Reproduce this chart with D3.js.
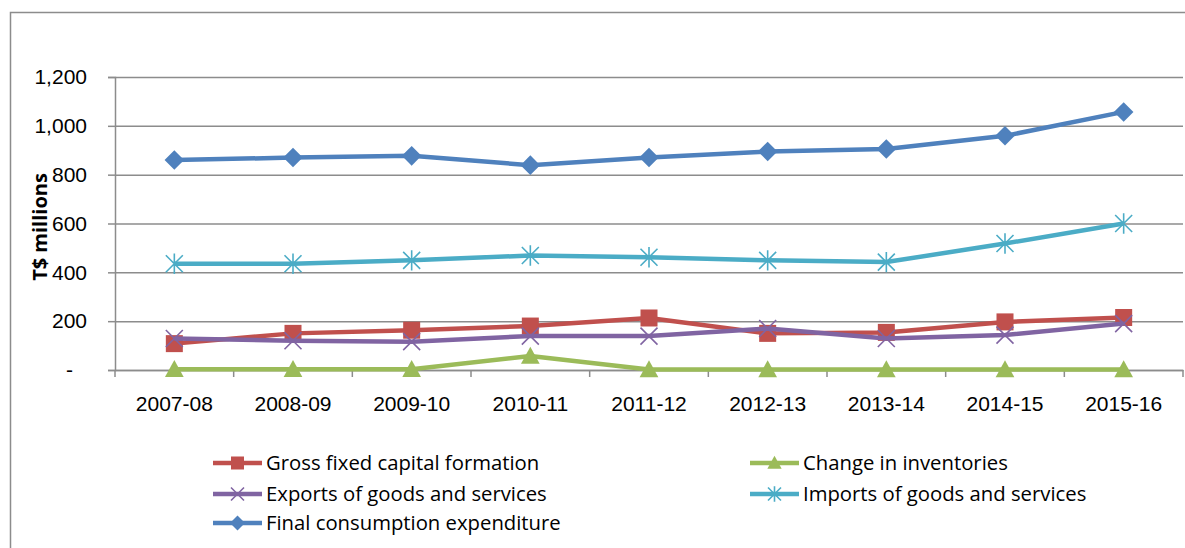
<!DOCTYPE html>
<html>
<head>
<meta charset="utf-8">
<script src="https://cdn.jsdelivr.net/npm/d3@7"></script>
<style>
  body { margin: 0; background: #fff; }
  svg { display: block; font-family: "Open Sans", sans-serif; }
</style>
</head>
<body>
<div id="chart"></div>
<script>
// data
const years = ["2007-08", "2008-09", "2009-10", "2010-11", "2011-12", "2012-13", "2013-14", "2014-15", "2015-16"];
const grossFixed = [108, 150, 163, 180, 213, 150, 154, 197, 215];
const inventories = [3, 3, 3, 57, 2, 2, 2, 2, 2];
const exportsGS = [129, 120, 116, 139, 139, 170, 129, 143, 190];
const importsGS = [435, 435, 449, 469, 462, 449, 442, 518, 600];
const finalCons = [860, 870, 877, 839, 870, 895, 905, 959, 1057];
const yTicks = [0, 200, 400, 600, 800, 1000, 1200];

const series = [
    { name: "Gross fixed capital formation", values: grossFixed, color: "#C0504D", marker: "square" },
    { name: "Change in inventories", values: inventories, color: "#9BBB59", marker: "triangle" },
    { name: "Exports of goods and services", values: exportsGS, color: "#8064A2", marker: "x" },
    { name: "Imports of goods and services", values: importsGS, color: "#4BACC6", marker: "star" },
    { name: "Final consumption expenditure", values: finalCons, color: "#4F81BD", marker: "diamond" }
];

const W = 1185, H = 548;
const plot = { left: 115, right: 1183, top: 77, bottom: 370 };

const svg = d3.select("#chart").append("svg")
    .attr("width", W)
    .attr("height", H);

// outer frame (cropped at the right and bottom)
svg.append("rect")
    .attr("x", 10.5).attr("y", 12.5)
    .attr("width", W + 20).attr("height", H + 20)
    .attr("fill", "none")
    .attr("stroke", "#8c8c8c")
    .attr("stroke-width", 1.5);

const x = d3.scaleBand()
    .domain(years)
    .range([plot.left, plot.right]);

const y = d3.scaleLinear()
    .domain([0, 1200])
    .range([plot.bottom, plot.top]);

const cx = d => x(d) + x.bandwidth() / 2;

// gridlines
svg.append("g")
    .attr("transform", `translate(${plot.left},0)`)
    .call(d3.axisLeft(y).tickValues(yTicks).tickSize(-(plot.right - plot.left)).tickFormat(""))
    .call(g => g.select(".domain").remove())
    .selectAll("line")
    .attr("stroke", "#8c8c8c")
    .attr("stroke-width", 1.5);

// y axis
const yAxis = svg.append("g")
    .attr("transform", `translate(${plot.left},0)`)
    .call(d3.axisLeft(y).tickValues(yTicks).tickSize(7).tickPadding(21)
        .tickFormat(d => d === 0 ? "-" : d3.format(",")(d)));
yAxis.select(".domain").attr("stroke", "#8c8c8c").attr("stroke-width", 1.5);
yAxis.selectAll(".tick line").attr("stroke", "#8c8c8c").attr("stroke-width", 1.5);
yAxis.selectAll(".tick text")
    .style("font-size", "21px")
    .attr("fill", "#000")
    .attr("dx", d => d === 0 ? -14 : 0);

// x axis
const xAxis = svg.append("g")
    .attr("transform", `translate(0,${plot.bottom})`)
    .call(d3.axisBottom(x).tickSize(0).tickPadding(26));
xAxis.select(".domain").attr("stroke", "#8c8c8c").attr("stroke-width", 1.5);
xAxis.selectAll(".tick text")
    .style("font-size", "21px")
    .attr("fill", "#000");

// category tick marks between bands
svg.append("g")
    .selectAll("line")
    .data(years.concat(["end"]))
    .enter().append("line")
    .attr("x1", (d, i) => i < years.length ? x(d) : plot.right)
    .attr("x2", (d, i) => i < years.length ? x(d) : plot.right)
    .attr("y1", plot.bottom)
    .attr("y2", plot.bottom + 7)
    .attr("stroke", "#8c8c8c")
    .attr("stroke-width", 1.5);

// y axis title
svg.append("text")
    .attr("transform", "translate(47,227) rotate(-90)")
    .attr("text-anchor", "middle")
    .style("font-size", "20px")
    .style("font-weight", "bold")
    .text("T$ millions");

// marker drawing
function drawMarker(g, type, px, py, s, color) {
    const h = s / 2;
    if (type === "square") {
        g.append("rect").attr("x", px - h).attr("y", py - h)
            .attr("width", s).attr("height", s).attr("fill", color);
    } else if (type === "diamond") {
        g.append("path")
            .attr("d", `M${px},${py - h * 1.15}L${px + h * 1.15},${py}L${px},${py + h * 1.15}L${px - h * 1.15},${py}Z`)
            .attr("fill", color);
    } else if (type === "triangle") {
        g.append("path")
            .attr("d", `M${px},${py - h * 1.1}L${px + h * 1.1},${py + h * 0.9}L${px - h * 1.1},${py + h * 0.9}Z`)
            .attr("fill", color);
    } else if (type === "x") {
        g.append("path")
            .attr("d", `M${px - h},${py - h}L${px + h},${py + h}M${px + h},${py - h}L${px - h},${py + h}`)
            .attr("stroke", color).attr("stroke-width", 1.6).attr("fill", "none");
    } else if (type === "star") {
        g.append("path")
            .attr("d", `M${px - h},${py - h}L${px + h},${py + h}M${px + h},${py - h}L${px - h},${py + h}M${px},${py - h * 1.2}L${px},${py + h * 1.2}`)
            .attr("stroke", color).attr("stroke-width", 1.6).attr("fill", "none");
    }
}

const line = d3.line()
    .x((d, i) => cx(years[i]))
    .y(d => y(d));

series.forEach(s => {
    const g = svg.append("g");
    g.append("path")
        .datum(s.values)
        .attr("d", line)
        .attr("fill", "none")
        .attr("stroke", s.color)
        .attr("stroke-width", 4.5)
        .attr("stroke-linejoin", "round");
    s.values.forEach((v, i) => drawMarker(g, s.marker, cx(years[i]), y(v), 17, s.color));
});

// legend
const legendCols = [213, 750];
const legendRows = [463, 494, 523];
series.forEach((s, i) => {
    const lx = legendCols[i % 2];
    const ly = legendRows[Math.floor(i / 2)];
    const g = svg.append("g");
    g.append("line")
        .attr("x1", lx).attr("x2", lx + 49)
        .attr("y1", ly).attr("y2", ly)
        .attr("stroke", s.color).attr("stroke-width", 4.5);
    drawMarker(g, s.marker, lx + 24.5, ly, 13, s.color);
    g.append("text")
        .attr("x", lx + 53)
        .attr("y", ly)
        .attr("dy", "0.35em")
        .style("font-size", "20.3px")
        .text(s.name);
});
</script>
</body>
</html>
